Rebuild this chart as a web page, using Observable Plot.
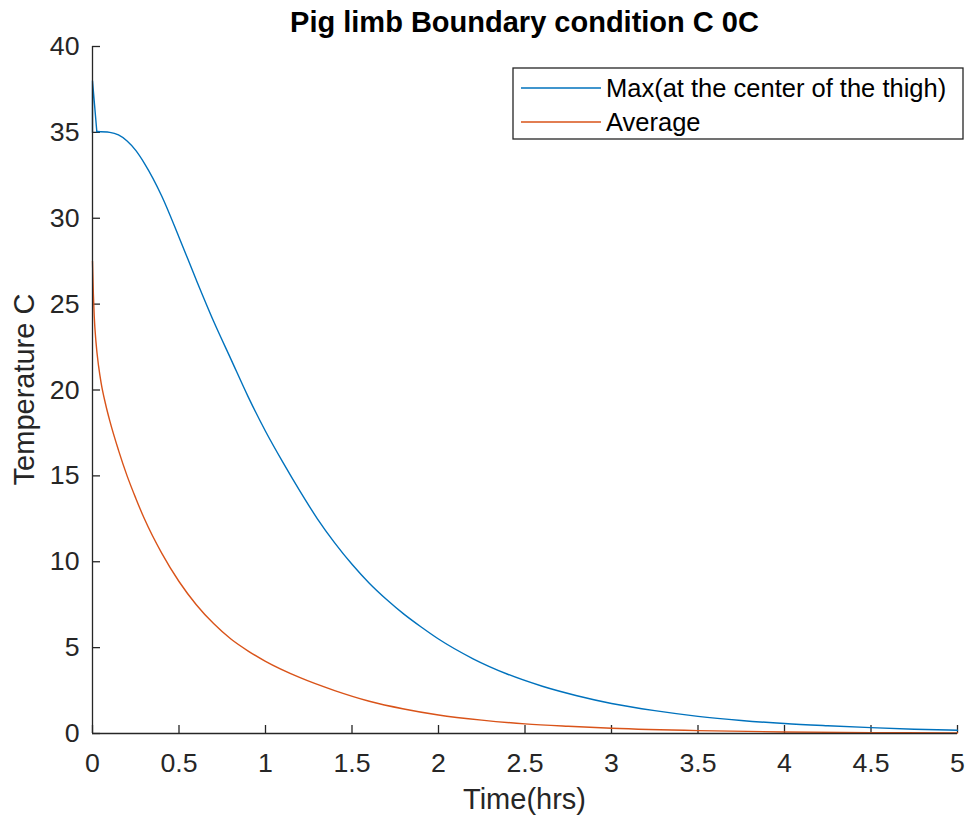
<!DOCTYPE html>
<html><head><meta charset="utf-8">
<script src="https://cdn.jsdelivr.net/npm/d3@7"></script>
<script src="https://cdn.jsdelivr.net/npm/@observablehq/plot@0.6"></script>
<style>
body{margin:0;background:#fff;}
#chart{width:967px;height:819px;}
</style></head>
<body><div id="chart"></div>
<script>
// ---- data ----
const titleText = "Pig limb Boundary condition C 0C";
const xLabel = "Time(hrs)";
const yLabel = "Temperature C";
const seriesNames = ["Max(at the center of the thigh)", "Average"];
const seriesColors = ["#0072BD", "#D95319"];
const xTicks = [0, 0.5, 1, 1.5, 2, 2.5, 3, 3.5, 4, 4.5, 5];
const yTicks = [0, 5, 10, 15, 20, 25, 30, 35, 40];

const maxT    = [0, 0, 0.025, 0.1, 0.15, 0.2, 0.25, 0.3, 0.4, 0.5, 0.6, 0.7, 0.8, 0.9, 1.0, 1.1, 1.2, 1.3, 1.4, 1.5, 1.6, 1.7, 1.8, 1.9, 2.0, 2.2, 2.4, 2.6, 2.8, 3.0, 3.25, 3.5, 3.75, 4.0, 4.25, 4.5, 4.75, 5.0];
const maxTemp = [35, 38, 35.05, 35.0, 34.85, 34.5, 33.95, 33.2, 31.3, 28.9, 26.4, 24.0, 21.8, 19.6, 17.6, 15.8, 14.1, 12.5, 11.1, 9.85, 8.75, 7.8, 6.95, 6.2, 5.5, 4.35, 3.45, 2.75, 2.2, 1.75, 1.33, 1.0, 0.76, 0.58, 0.45, 0.34, 0.25, 0.19];

const avgT    = [0, 0.005, 0.01, 0.02, 0.035, 0.05, 0.075, 0.1, 0.15, 0.2, 0.25, 0.3, 0.4, 0.5, 0.6, 0.7, 0.8, 0.9, 1.0, 1.2, 1.4, 1.6, 1.8, 2.0, 2.25, 2.5, 2.75, 3.0, 3.5, 4.0, 4.5, 5.0];
const avgTemp = [27.5, 25.6, 24.3, 22.8, 21.4, 20.4, 19.2, 18.2, 16.5, 15.0, 13.7, 12.5, 10.5, 8.85, 7.5, 6.4, 5.5, 4.8, 4.2, 3.25, 2.5, 1.88, 1.43, 1.08, 0.78, 0.56, 0.42, 0.31, 0.17, 0.09, 0.05, 0.03];

// ---- build ----
const maxData = maxT.map((t, i) => ({t, v: maxTemp[i]}));
const spike = maxData.slice(0, 3);
const maxMain = maxData.slice(2);
const avgData = avgT.map((t, i) => ({t, v: avgTemp[i]}));

const W = 967, H = 819, mL = 92, mR = 10, mT = 46, mB = 86;
const fw = W - mL - mR, fh = H - mT - mB;
const font = "'Liberation Sans', Arial, sans-serif";
const ink = "#262626";

const chart = Plot.plot({
  width: W, height: H,
  marginLeft: mL, marginRight: mR, marginTop: mT, marginBottom: mB,
  style: {fontFamily: font, fontSize: "26.7px", color: ink, background: "#fff"},
  x: {domain: [0, 5]},
  y: {domain: [0, 40]},
  marks: [
    Plot.axisX(xTicks, {tickSize: 0, tickPadding: 20, tickFormat: d => String(d), label: null, fontSize: 26.7, fill: ink}),
    Plot.axisY(yTicks, {tickSize: 0, tickPadding: 13, tickFormat: d => String(d), label: null, fontSize: 26.7, fill: ink}),
    Plot.tickX(xTicks, {x: d => d, insetTop: fh - 8, stroke: ink, strokeWidth: 1.3}),
    Plot.tickY(yTicks, {y: d => d, insetRight: fw - 8, stroke: ink, strokeWidth: 1.3}),
    Plot.line(spike, {x: "t", y: "v", stroke: seriesColors[0], strokeWidth: 1.4}),
    Plot.line(maxMain, {x: "t", y: "v", curve: "monotone-x", stroke: seriesColors[0], strokeWidth: 1.4}),
    Plot.line(avgData, {x: "t", y: "v", curve: "monotone-x", stroke: seriesColors[1], strokeWidth: 1.4}),
    Plot.ruleY([0], {stroke: ink, strokeWidth: 1.3}),
    Plot.ruleX([0], {stroke: ink, strokeWidth: 1.3})
  ]
});
document.getElementById("chart").appendChild(chart);

// ---- title, axis labels, legend ----
const svg = d3.select(chart);
const xr = chart.scale("x").range, yr = chart.scale("y").range;
const cx = (xr[0] + xr[1]) / 2, cy = (yr[0] + yr[1]) / 2;

svg.append("text").attr("x", cx).attr("y", 32).attr("text-anchor", "middle")
  .attr("font-family", font).attr("font-size", 29).attr("font-weight", "bold").attr("fill", "#000")
  .text(titleText);
svg.append("text").attr("x", cx).attr("y", 809).attr("text-anchor", "middle")
  .attr("font-family", font).attr("font-size", 29).attr("fill", ink).text(xLabel);
svg.append("text").attr("transform", `translate(34,${cy}) rotate(-90)`).attr("text-anchor", "middle")
  .attr("font-family", font).attr("font-size", 29).attr("fill", ink).text(yLabel);

const lg = svg.append("g");
lg.append("rect").attr("x", 513).attr("y", 68).attr("width", 450).attr("height", 71)
  .attr("fill", "#fff").attr("stroke", ink).attr("stroke-width", 1.3);
seriesNames.forEach((name, i) => {
  const yy = 88 + i * 34;
  lg.append("line").attr("x1", 521).attr("x2", 601).attr("y1", yy).attr("y2", yy)
    .attr("stroke", seriesColors[i]).attr("stroke-width", 1.4);
  lg.append("text").attr("x", 606).attr("y", yy + 9).attr("text-anchor", "start")
    .attr("font-family", font).attr("font-size", 25.5).attr("fill", "#000").text(name);
});
</script>
</body></html>
